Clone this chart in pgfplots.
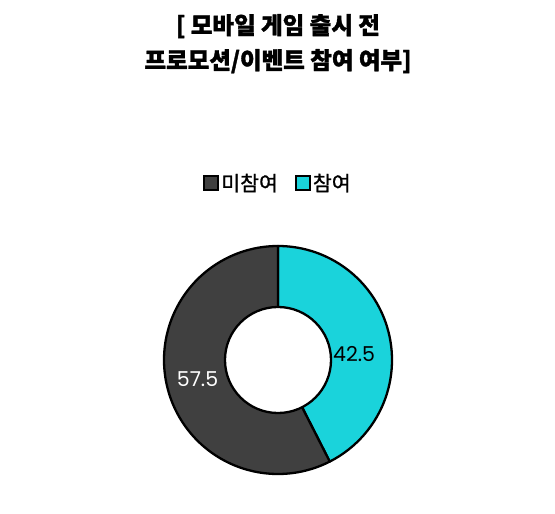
\documentclass[border=0pt]{standalone}
\usepackage{pgfplots}
\usepackage{pgfplotstable}
\pgfplotsset{compat=1.18}
\usepackage{fontspec}
\setmainfont{Noto Sans CJK KR}
\newfontfamily\titlefont{Noto Sans CJK KR}[BoldFeatures={FakeBold=1.5}]
\newfontfamily\legfont{Noto Sans CJK KR}[FakeBold=1]
\newfontfamily\numfont{Poppins}

\definecolor{darkslice}{HTML}{404040}
\definecolor{cyanslice}{HTML}{1AD3DB}

% share of respondents (%)
\pgfplotstableread{
label   value
참여    42.5
미참여  57.5
}\promo

\begin{document}
\pgfplotstablegetelem{0}{value}\of\promo \let\vA\pgfplotsretval
\pgfplotstablegetelem{1}{value}\of\promo \let\vB\pgfplotsretval
\begin{tikzpicture}
  \useasboundingbox (0,0) rectangle (555bp,514bp);
  \begin{axis}[
    at={(278bp,154bp)}, anchor=center,
    scale only axis,
    width=228bp, height=228bp,
    xmin=-1, xmax=1, ymin=-1, ymax=1,
    hide axis, clip=false,
    title={[ 모바일 게임 출시 전\\[1bp]프로모션/이벤트 참여 여부]},
    title style={at={(0.5,1.861)}, anchor=center, align=center,
      font=\titlefont\fontsize{23.5bp}{34bp}\selectfont\bfseries},
    legend columns=2,
    legend style={at={(0.5,1.276)}, anchor=center, draw=none, fill=none,
      font=\legfont\fontsize{20.5bp}{22bp}\selectfont,
      /tikz/every even column/.append style={column sep=15bp}},
    legend image code/.code={\draw[#1, line width=2bp] (0bp,-7bp) rectangle (14bp,7bp);},
  ]
    \addlegendimage{fill=darkslice, draw=black}
    \addlegendentry{미참여}
    \addlegendimage{fill=cyanslice, draw=black}
    \addlegendentry{참여}

    \addplot[fill=cyanslice, draw=black, line width=2.3bp, line join=round,
      domain=0:1, samples=120]
      ({cos(90-3.6*\vA*x)}, {sin(90-3.6*\vA*x)}) -- (axis cs:0,0) -- cycle;
    \addplot[fill=darkslice, draw=black, line width=2.3bp, line join=round,
      domain=0:1, samples=160]
      ({cos(90-3.6*\vA-3.6*\vB*x)}, {sin(90-3.6*\vA-3.6*\vB*x)}) -- (axis cs:0,0) -- cycle;

    \draw[fill=white, line width=2.3bp] (axis cs:0,0) circle[radius=0.465];

    \node[font=\numfont\fontsize{20.5bp}{22bp}\selectfont, text=black]
      at (axis cs:0.667,0.053) {\vA};
    \node[font=\numfont\fontsize{20.5bp}{22bp}\selectfont, text=white]
      at (axis cs:-0.706,-0.167) {\vB};
  \end{axis}
\end{tikzpicture}
\end{document}
